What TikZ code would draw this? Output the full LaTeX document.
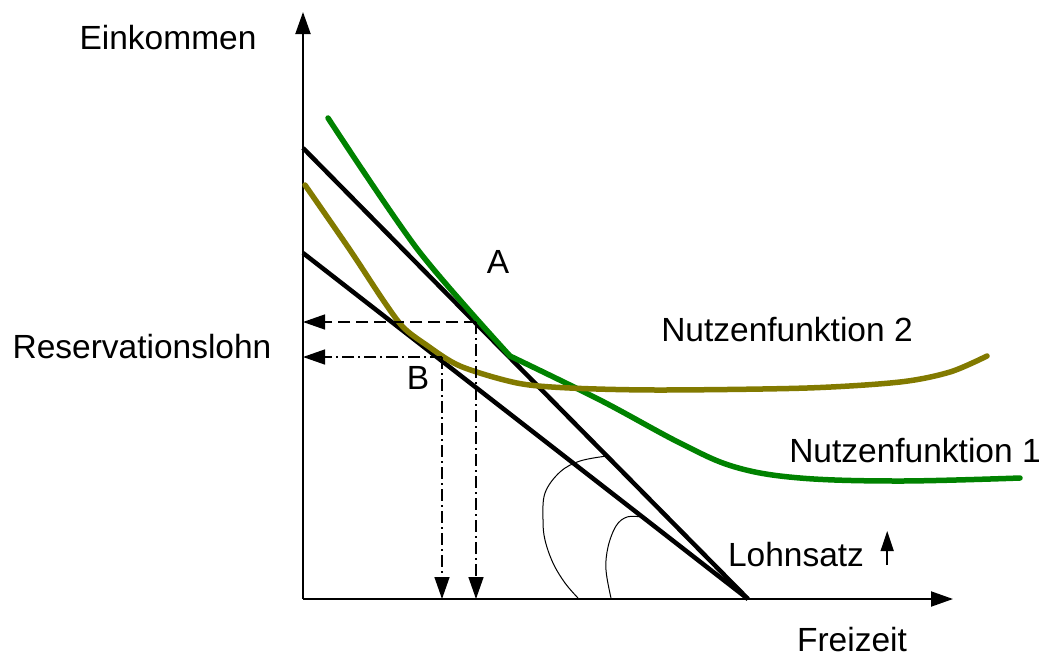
\documentclass[tikz,border=0pt]{standalone}
\usepackage{fontspec}
\setmainfont{Liberation Sans}
\usetikzlibrary{arrows.meta,positioning,calc}

\definecolor{nutzgreen}{RGB}{0,130,0}
\definecolor{nutzolive}{RGB}{130,122,0}

\begin{document}
\begin{tikzpicture}[
    x=1pt, y=-1pt,
    lbl/.style={font=\fontsize{33.5}{40}\selectfont, inner sep=0pt},
    axis/.style={line width=2pt, -{Triangle[length=22pt,width=15pt]}},
    budget/.style={line width=4.5pt, black},
    nutzen/.style={line width=5.5pt, line cap=round, line join=round},
    helper/.style={line width=1.4pt, -{Triangle[length=22pt,width=15pt]}},
    dashhelp/.style={helper, dash pattern=on 12pt off 6pt},
    dotdash/.style={helper, dash pattern=on 12pt off 4pt on 2pt off 4pt},
    angle/.style={line width=1pt}
]
    \useasboundingbox (0,0) rectangle (1049,657);

    % axes
    \coordinate (O) at (303,599);
    \coordinate (ytop) at (303,12);
    \coordinate (xend) at (953,599);
    \draw[axis] (O) -- (ytop);
    \draw[axis] (O) -- (xend);

    % budget lines
    \coordinate (w1) at (303,148);
    \coordinate (w2) at (303,253);
    \coordinate (T) at (748,599);
    \draw[budget] (w1) -- (T);
    \draw[budget] (w2) -- (T);

    % utility curves
    \draw[nutzen, nutzgreen] plot[smooth, tension=0.5] coordinates {
        (328,118) (418,250) (510,356)};
    \draw[nutzen, nutzgreen] plot[smooth, tension=0.6] coordinates {
        (510,356) (600,400) (680,443) (735,467) (800,478) (900,481) (1020,478)};
    \draw[nutzen, nutzolive] plot[smooth, tension=0.5] coordinates {
        (305,185) (350,250) (383,300) (403,327) (425,344) (460,366)
        (517,383) (570,388) (660,390) (807,388) (900,382) (950,372) (987,356)};

    % optimum points and helper lines
    \coordinate (A) at (476,322);
    \coordinate (B) at (442,357);
    \coordinate (Ay) at (O |- A);
    \coordinate (By) at (O |- B);
    \coordinate (Ax) at (A |- O);
    \coordinate (Bx) at (B |- O);
    \draw[dashhelp] (A) -- (Ay);
    \draw[dotdash] (B) -- (By);
    \draw[dotdash] (A) -- (Ax);
    \draw[dotdash] (B) -- (Bx);

    % rotation marks
    \draw[angle] plot[smooth, tension=0.6] coordinates {
        (607,456) (580,461) (560,472) (545,493) (543,520) (545,540) (553,563) (565,583) (578,598)};
    \draw[angle] plot[smooth, tension=0.6] coordinates {
        (642,517) (627,517) (616,526) (608,547) (606,570) (611,598)};

    % labels
    \node[lbl] (einkommen) at (168,38) {Einkommen};
    \node[lbl] (freizeit) at (852,640) {Freizeit};
    \node[lbl] (reslohn) at (142,347) {Reservationslohn};
    \node[lbl] (labelA) at (498,262) {A};
    \node[lbl] (labelB) at (418,378) {B};
    \node[lbl] (nf2) at (787,330) {Nutzenfunktion 2};
    \node[lbl] (nf1) at (915,451) {Nutzenfunktion 1};
    \node[lbl] (lohnsatz) at (796,555) {Lohnsatz};
    \coordinate (upfoot) at ($(lohnsatz.east)+(23,10)$);
    \coordinate (uptip) at ($(lohnsatz.east)+(23,-24)$);
    \draw[line width=1.5pt, -{Triangle[length=20pt,width=13pt]}] (upfoot) -- (uptip);
\end{tikzpicture}
\end{document}
